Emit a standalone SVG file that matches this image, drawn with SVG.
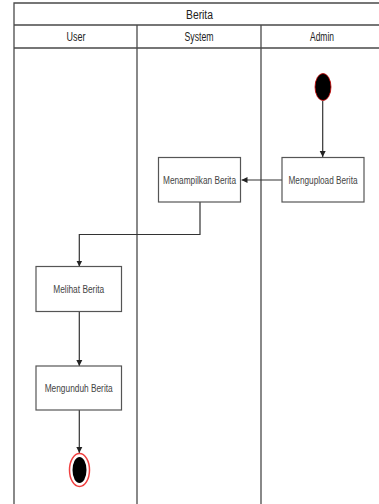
<svg xmlns="http://www.w3.org/2000/svg" width="379" height="504" viewBox="0 0 379 504">
<style>
.frame{fill:none;stroke:#4a4a4a;stroke-width:1.3}
.hdr{font-family:"Liberation Sans",Arial,sans-serif;font-size:12px;fill:#222;text-anchor:middle}
.box{fill:#fff;stroke:#555;stroke-width:1.2}
.lbl{font-family:"Liberation Sans",Arial,sans-serif;font-size:10px;fill:#444;text-anchor:middle}
.edge{fill:none;stroke:#333;stroke-width:1.2}
</style>
<defs>
<marker id="arr" viewBox="0 0 10 10" refX="10" refY="5" markerWidth="6" markerHeight="8" markerUnits="userSpaceOnUse" orient="auto">
<path d="M0,0 L10,5 L0,10 Z" fill="#222"/>
</marker>
</defs>
<rect width="379" height="504" fill="#fff"/>
<g id="swimlanes">
<path class="frame" d="M14,504 V3 H390 M14,25 H390 M14,48 H390 M137,25 V504 M261,25 V504"/>
<text class="hdr" x="199.5" y="18.5" textLength="27" lengthAdjust="spacingAndGlyphs">Berita</text>
<text class="hdr" x="76" y="41" textLength="19" lengthAdjust="spacingAndGlyphs">User</text>
<text class="hdr" x="199" y="41" textLength="29" lengthAdjust="spacingAndGlyphs">System</text>
<text class="hdr" x="322" y="41" textLength="24" lengthAdjust="spacingAndGlyphs">Admin</text>
</g>
<g id="connectors">
<path class="edge" d="M322.7,101 V157" marker-end="url(#arr)"/>
<path class="edge" d="M282,180 H241.5" marker-end="url(#arr)"/>
<path class="edge" d="M200,202 V234.5 H79.3 V266.5" marker-end="url(#arr)"/>
<path class="edge" d="M79.3,311.5 V366" marker-end="url(#arr)"/>
<path class="edge" d="M79.3,410 V453" marker-end="url(#arr)"/>
</g>
<g id="start">
<ellipse cx="323" cy="87" rx="8" ry="13.5" fill="#000" stroke="#c00" stroke-width="0.8"/>
</g>
<g id="mengupload">
<rect class="box" x="282" y="157.5" width="82" height="44.5"/>
<text class="lbl" x="323" y="183.5" textLength="69" lengthAdjust="spacingAndGlyphs">Mengupload Berita</text>
</g>
<g id="menampilkan">
<rect class="box" x="158.5" y="157.5" width="82" height="44.5"/>
<text class="lbl" x="199.5" y="183.5" textLength="73" lengthAdjust="spacingAndGlyphs">Menampilkan Berita</text>
</g>
<g id="melihat">
<rect class="box" x="36" y="266.5" width="85.5" height="45"/>
<text class="lbl" x="78.7" y="292.5" textLength="51" lengthAdjust="spacingAndGlyphs">Melihat Berita</text>
</g>
<g id="mengunduh">
<rect class="box" x="36" y="366" width="85.5" height="44"/>
<text class="lbl" x="78.7" y="391.5" textLength="68" lengthAdjust="spacingAndGlyphs">Mengunduh Berita</text>
</g>
<g id="end">
<ellipse cx="79.5" cy="470" rx="10" ry="16.5" fill="#fff" stroke="#f04040" stroke-width="1.5"/>
<ellipse cx="79.5" cy="470" rx="7" ry="13" fill="#000"/>
</g>
</svg>
